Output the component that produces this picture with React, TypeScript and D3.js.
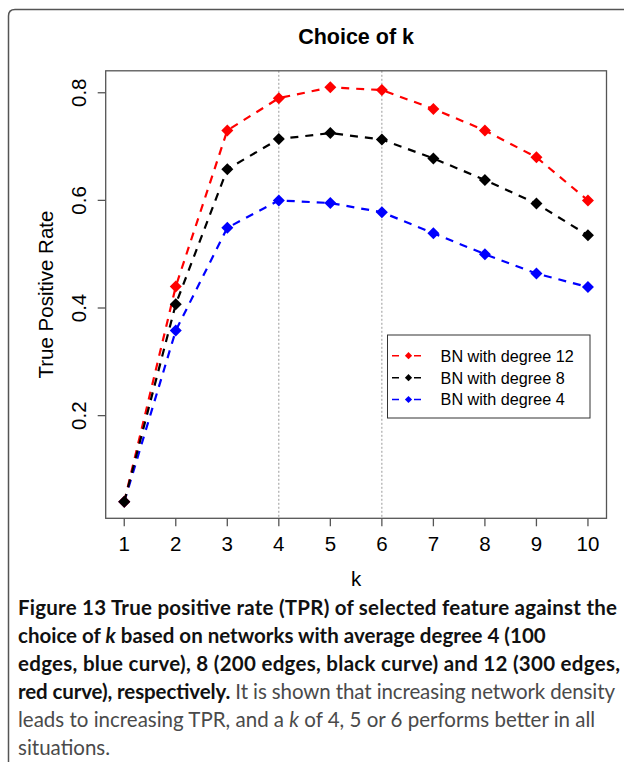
import React from 'react';
import * as d3 from 'd3';

// values
const kValues = [1, 2, 3, 4, 5, 6, 7, 8, 9, 10];
const degree12 = [0.04, 0.44, 0.73, 0.79, 0.81, 0.805, 0.77, 0.73, 0.68, 0.6];
const degree8 = [0.04, 0.407, 0.658, 0.714, 0.725, 0.713, 0.678, 0.638, 0.594, 0.535];
const degree4 = [0.04, 0.358, 0.549, 0.6, 0.595, 0.578, 0.539, 0.5, 0.464, 0.439];
const yTicks = [0.2, 0.4, 0.6, 0.8];
const markedK = [4, 6];

const legendItems = [
  { label: 'BN with degree 12', color: '#ff0000' },
  { label: 'BN with degree 8', color: '#000000' },
  { label: 'BN with degree 4', color: '#0000ff' },
];

// drawing order: blue, red, black (black diamond sits on top at k=1)
const series = [
  { values: degree4, color: '#0000ff' },
  { values: degree12, color: '#ff0000' },
  { values: degree8, color: '#000000' },
];

const W = 624;
const H = 762;
const box = { left: 105.7, right: 606.5, top: 70.8, bottom: 518.3 };
const font = '"Liberation Sans", Arial, Helvetica, sans-serif';
const capFont = 'Lato, "Open Sans", sans-serif';
const axisSize = 20.5;

// R style 4% padding on the ranges
function padded(ext: [number, number]): [number, number] {
  const r = ext[1] - ext[0];
  return [ext[0] - 0.04 * r, ext[1] + 0.04 * r];
}

export default function App() {
  const allY = [...degree12, ...degree8, ...degree4];
  const x = d3.scaleLinear()
    .domain(padded(d3.extent(kValues) as [number, number]))
    .range([box.left, box.right]);
  const y = d3.scaleLinear()
    .domain(padded(d3.extent(allY) as [number, number]))
    .range([box.bottom, box.top]);

  const line = d3.line<number>()
    .x((d, i) => x(kValues[i]))
    .y((d) => y(d));
  const diamond = d3.symbol(d3.symbolSquare, 72)();
  const smallDiamond = d3.symbol(d3.symbolSquare, 26)();

  const midX = (box.left + box.right) / 2;
  const midY = (box.top + box.bottom) / 2;

  const legend = { x: 387.5, y: 335, w: 202.5, h: 83, rowY: [355.7, 377.7, 399.5] };

  return (
    <svg width={W} height={H} style={{ position: 'absolute', left: 0, top: 0, background: '#fff' }}>
      <rect width={W} height={H} fill="#fff" />
      {/* figure frame */}
      <path d={`M8.5,${H} V16 Q8.5,9.5 15,9.5 H${W}`} fill="none" stroke="#555" strokeWidth={1.5} />

      <text x={midX} y={43.5} textAnchor="middle" fontFamily={font} fontWeight="bold" fontSize={21.5}>
        Choice of k
      </text>

      {/* vertical reference lines */}
      {markedK.map((k) => (
        <line key={k} x1={x(k)} x2={x(k)} y1={box.top} y2={box.bottom}
          stroke="#999" strokeWidth={1} strokeDasharray="2,2" />
      ))}

      {series.map((s, si) => (
        <g key={si}>
          <path d={line(s.values) || ''} fill="none" stroke={s.color} strokeWidth={2.2} strokeDasharray="8,7" />
          {s.values.map((v, i) => (
            <path key={i} d={diamond || ''} fill={s.color}
              transform={`translate(${x(kValues[i])},${y(v)}) rotate(45)`} />
          ))}
        </g>
      ))}

      {/* plot box */}
      <rect x={box.left} y={box.top} width={box.right - box.left} height={box.bottom - box.top}
        fill="none" stroke="#555" strokeWidth={1.3} />

      {/* x axis */}
      {kValues.map((k) => (
        <g key={k}>
          <line x1={x(k)} x2={x(k)} y1={box.bottom} y2={box.bottom + 8} stroke="#555" strokeWidth={1.3} />
          <text x={x(k)} y={551} textAnchor="middle" fontFamily={font} fontSize={axisSize}>{k}</text>
        </g>
      ))}
      <text x={midX} y={586} textAnchor="middle" fontFamily={font} fontSize={axisSize}>k</text>

      {/* y axis */}
      {yTicks.map((t) => (
        <g key={t}>
          <line x1={box.left - 8} x2={box.left} y1={y(t)} y2={y(t)} stroke="#555" strokeWidth={1.3} />
          <text transform={`translate(85.5,${y(t)}) rotate(-90)`} textAnchor="middle" fontFamily={font} fontSize={axisSize}>
            {t.toFixed(1)}
          </text>
        </g>
      ))}
      <text transform={`translate(52.5,${midY}) rotate(-90)`} textAnchor="middle" fontFamily={font} fontSize={axisSize}>
        True Positive Rate
      </text>

      {/* legend */}
      <rect x={legend.x} y={legend.y} width={legend.w} height={legend.h} fill="#fff" stroke="#333" strokeWidth={1} />
      {legendItems.map((it, i) => (
        <g key={it.label}>
          <line x1={392} x2={425} y1={legend.rowY[i]} y2={legend.rowY[i]} stroke={it.color}
            strokeWidth={1.5} strokeDasharray="7,15" />
          <path d={smallDiamond || ''} fill={it.color}
            transform={`translate(408.5,${legend.rowY[i]}) rotate(45)`} />
          <text x={440.6} y={legend.rowY[i] + 5.8} fontFamily={font} fontSize={16.2}>{it.label}</text>
        </g>
      ))}

      {/* caption */}
      <g fontFamily={capFont} fontSize={20.5}>
        <text x={18} y={615} fontWeight="bold" fill="#111" textLength={599}>
          Figure 13 True positive rate (TPR) of selected feature against the
        </text>
        <text x={18} y={643} fontWeight="bold" fill="#111">
          choice of <tspan fontStyle="italic">k</tspan> based on networks with average degree 4 (100
        </text>
        <text x={18} y={671} fontWeight="bold" fill="#111" textLength={602}>
          edges, blue curve), 8 (200 edges, black curve) and 12 (300 edges,
        </text>
        <text x={18} y={699} fill="#4a4a4a" textLength={597}>
          <tspan fontWeight="bold" fill="#111">red curve), respectively.</tspan> It is shown that increasing network density
        </text>
        <text x={18} y={727} fill="#4a4a4a">
          leads to increasing TPR, and a <tspan fontStyle="italic">k</tspan> of 4, 5 or 6 performs better in all
        </text>
        <text x={18} y={755} fill="#4a4a4a">
          situations.
        </text>
      </g>
    </svg>
  );
}
